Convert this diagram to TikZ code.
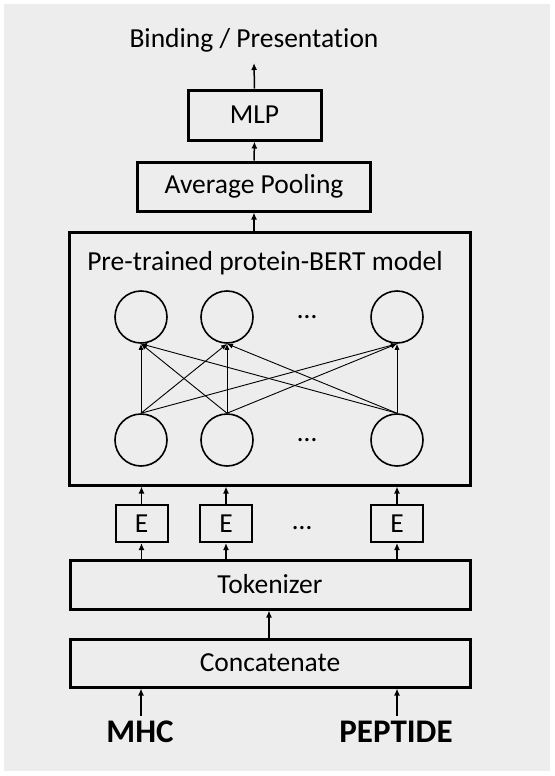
\documentclass[tikz,border=0pt]{standalone}
\usepackage{fontspec}
\setmainfont{Carlito}[Ligatures=NoCommon]
\usetikzlibrary{arrows.meta, positioning}
\definecolor{fondoGris}{HTML}{EDEDED}
\colorlet{colTrazo}{black}
\tikzset{
  capa/.style={
    draw=colTrazo, line width=3pt, rectangle, inner sep=0pt,
    align=center, font=\fontsize{27.5}{32}\selectfont
  },
  cajaE/.style={capa, line width=2pt, minimum width=52pt, minimum height=37pt},
  neurona/.style={circle, draw=colTrazo, line width=1.6pt, minimum size=52pt, inner sep=0pt},
  puntos/.style={font=\fontsize{27.5}{32}\selectfont, inner sep=0pt},
  etiqueta/.style={font=\fontsize{27.5}{32}\selectfont, inner sep=0pt},
  entrada/.style={font=\fontsize{33}{38}\selectfont\bfseries, inner sep=0pt},
  flecha/.style={-{Latex[length=7pt, width=6pt]}, line width=1.5pt, colTrazo},
  flechaFina/.style={-{Latex[length=6pt, width=5pt]}, line width=0.9pt, colTrazo},
}
\begin{document}
\begin{tikzpicture}[x=1pt, y=-1pt]
  \useasboundingbox (0,0) rectangle (554,776);
  \fill[fondoGris] (4,4) rectangle (550,771);

  % salida
  \node[etiqueta] (salida) at (254,40) {Binding / Presentation};
  \coordinate (puntaSalida) at (254,63);
  \node[capa, minimum width=133pt, minimum height=50pt] (mlp) at (254.5,115) {MLP};
  \node[capa, minimum width=233pt, minimum height=49pt] (pool) at (254,186.5) {Average Pooling};

  % modelo BERT
  \node[capa, minimum width=401pt, minimum height=253pt] (bert) at (269.5,358.5) {};
  \node[etiqueta] (tituloBert) at (265,263) {Pre-trained protein-BERT model};
  \node[neurona] (t1) at (141,317) {};
  \node[neurona] (t2) at (227,317) {};
  \node[neurona] (t3) at (397,317) {};
  \node[neurona] (b1) at (141,440) {};
  \node[neurona] (b2) at (227,440) {};
  \node[neurona] (b3) at (397,440) {};
  \node[puntos] (ptsT) at (307,317) {\dots};
  \node[puntos] (ptsB) at (307,440) {\dots};

  % embeddings
  \node[cajaE] (e1) at (141.5,523.5) {E};
  \node[cajaE] (e2) at (226,523.5) {E};
  \node[cajaE] (e3) at (397,523.5) {E};
  \node[puntos] (ptsE) at (302,528) {\dots};

  \node[capa, minimum width=400pt, minimum height=49pt] (tok) at (270,584.5) {Tokenizer};
  \node[capa, minimum width=400pt, minimum height=48pt] (concat) at (270,663) {Concatenate};

  % entradas
  \node[entrada] (mhc) at (140,732) {MHC};
  \node[entrada] (pep) at (396,732) {PEPTIDE};
  \coordinate (inMhc) at (141,716);
  \coordinate (inPep) at (397,716);

  % conexiones
  \draw[flecha] (mlp.north) -- (puntaSalida);
  \draw[flecha] (pool.north) -- (mlp.south);
  \draw[flecha] (bert.north -| pool.north) -- (pool.south);
  \foreach \b in {b1,b2,b3}
    \foreach \t in {t1,t2,t3}
      \draw[flechaFina] (\b.north) -- (\t.south);
  \foreach \e in {e1,e2,e3} {
    \draw[flecha] (\e.north) -- (\e.north |- bert.south);
    \draw[flecha] (\e.south |- tok.north) -- (\e.south);
  }
  \draw[flecha] (concat.north -| 269,0) -- (tok.south -| 269,0);
  \draw[flecha] (inMhc) -- (inMhc |- concat.south);
  \draw[flecha] (inPep) -- (inPep |- concat.south);
\end{tikzpicture}
\end{document}
